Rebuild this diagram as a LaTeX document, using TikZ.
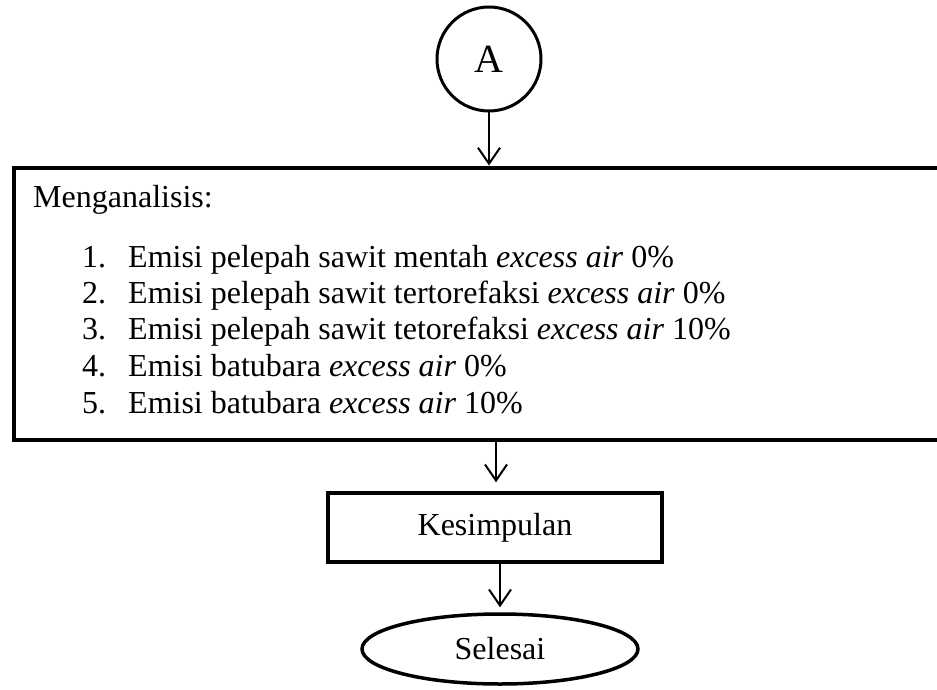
\documentclass[tikz,border=0pt]{standalone}
\usepackage{fontspec}
\setmainfont{Liberation Serif}
\usetikzlibrary{arrows.meta,shapes.geometric}
\begin{document}
\begin{tikzpicture}[x=1pt,y=-1pt,
  txt/.style={font=\fontsize{32}{36}\selectfont, inner sep=0pt},
  flow/.style={draw, line width=2pt, -{Straight Barb[length=16pt,width=22pt,line width=2pt]}},
  thickbox/.style={draw, line width=4pt, rectangle, inner sep=0pt},
]
\useasboundingbox (0,0) rectangle (937,690);
\node[draw, circle, line width=3pt, minimum size=104pt, inner sep=0pt,
      font=\fontsize{40}{42}\selectfont] (a) at (489,59) {A};
\node[thickbox, anchor=north west, minimum width=960pt, minimum height=272pt] (box) at (12,166) {};
\node[txt, anchor=base west] (t0) at (33,207) {Menganalisis:};
\node[txt, anchor=base west] (n1) at (82,267) {1.};
\node[txt, anchor=base west] (n2) at (82,303) {2.};
\node[txt, anchor=base west] (n3) at (82,339) {3.};
\node[txt, anchor=base west] (n4) at (82,376) {4.};
\node[txt, anchor=base west] (n5) at (82,413) {5.};
\node[txt, anchor=base west] (i1) at (128,267) {Emisi pelepah sawit mentah \textit{excess air} 0\%};
\node[txt, anchor=base west] (i2) at (128,303) {Emisi pelepah sawit tertorefaksi \textit{excess air} 0\%};
\node[txt, anchor=base west] (i3) at (128,339) {Emisi pelepah sawit tetorefaksi \textit{excess air} 10\%};
\node[txt, anchor=base west] (i4) at (128,376) {Emisi batubara \textit{excess air} 0\%};
\node[txt, anchor=base west] (i5) at (128,413) {Emisi batubara \textit{excess air} 10\%};
\node[draw, line width=3.5pt, rectangle, minimum width=334pt, minimum height=69pt, inner sep=0pt, font=\fontsize{32}{36}\selectfont] (k) at (495,527.5) {Kesimpulan};
\node[draw, line width=3.5pt, ellipse, minimum width=276pt, minimum height=70pt, inner sep=0pt, font=\fontsize{32}{36}\selectfont] (s) at (500,649) {Selesai};
\coordinate (c1) at (496,438);
\coordinate (c2) at (500,562);
\draw[flow] (a.south) -- ++(0,53);
\draw[flow] (c1) -- ([yshift=9pt]k.north -| c1);
\draw[flow] (c2) -- ([yshift=5pt]s.north -| c2);
\end{tikzpicture}
\end{document}
